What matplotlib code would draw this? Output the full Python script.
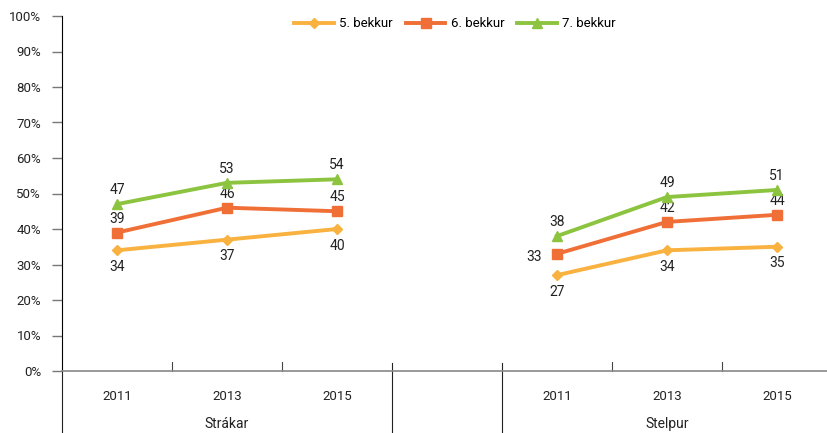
import matplotlib.pyplot as plt
import numpy as np

plt.rcParams['font.family'] = ['Roboto', 'DejaVu Sans']

years = ["2011", "2013", "2015"]
groups = ["Strákar", "Stelpur"]
series = ["5. bekkur", "6. bekkur", "7. bekkur"]
colors = ["#F9B13F", "#EF6F37", "#8CC43F"]
markers = ["D", "s", "^"]

# values per series: Strákar then Stelpur
bekkur5 = [[34, 37, 40], [27, 34, 35]]
bekkur6 = [[39, 46, 45], [33, 42, 44]]
bekkur7 = [[47, 53, 54], [38, 49, 51]]
values = [bekkur5, bekkur6, bekkur7]

# label placement: (dx, dy) offsets in points per point
below = (0, -12)
above = (0, 10)
offsets = [
    [[below] * 3, [below] * 3],
    [[above] * 3, [(-11, -2), above, above]],
    [[above] * 3, [above] * 3],
]

fig = plt.figure(figsize=(8.27, 4.33), dpi=100)
ax = fig.add_axes([62 / 827, 62 / 433, 770 / 827, 355 / 433])

group_x = [np.arange(3), np.arange(3) + 4]

for s, name in enumerate(series):
    for g in range(2):
        xs = group_x[g]
        ys = values[s][g]
        ax.plot(xs, ys, color=colors[s], lw=2.8, marker=markers[s],
                ms=7 if markers[s] != "D" else 5.5, mec=colors[s],
                label=name if g == 0 else None, zorder=3)
        for x, y, off in zip(xs, ys, offsets[s][g]):
            ha = "center" if off[0] == 0 else "right"
            ax.annotate(str(y), (x, y), xytext=off, textcoords="offset points",
                        ha=ha, va="center", fontsize=10, color="#222222")

ax.set_xlim(-0.5, 6.5)
ax.set_ylim(0, 100)
ax.set_yticks(np.arange(0, 101, 10))
ax.set_yticklabels([f"{v}%" for v in range(0, 101, 10)], fontsize=9.5, color="#222222")
ax.tick_params(axis="y", length=7, width=1, color="#777777", pad=8)
ax.set_xticks([])

for sp in ["top", "right"]:
    ax.spines[sp].set_visible(False)
ax.spines["left"].set_color("black")
ax.spines["bottom"].set_color("#888888")
ax.spines["bottom"].set_linewidth(1.2)

trans = ax.get_xaxis_transform()
bottom = -62 / 355
# small ticks inside the groups
for xb in [0.5, 1.5, 4.5, 5.5]:
    ax.plot([xb, xb], [0, 9 / 355], transform=trans, color="#444444", lw=0.8, clip_on=False)
# long separators
for xb in [-0.5, 2.5, 3.5]:
    top = 0 if xb == -0.5 else 8 / 355
    ax.plot([xb, xb], [top, bottom], transform=trans, color="#222222", lw=0.8, clip_on=False)

for g in range(2):
    for x, yr in zip(group_x[g], years):
        ax.text(x, -26 / 355, yr, transform=trans, ha="center", va="center", fontsize=9.5, color="#222222")
    ax.text(group_x[g][1], -53 / 355, groups[g], transform=trans, ha="center", va="center",
            fontsize=10, color="#222222")

ax.legend(loc="upper center", bbox_to_anchor=(455 / 827 * 827 / 770 - 62 / 770, 1.03),
          ncol=3, frameon=False, fontsize=9.5, handlelength=3, columnspacing=1.0,
          handletextpad=0.4)

fig.savefig("out.png", dpi=100)
